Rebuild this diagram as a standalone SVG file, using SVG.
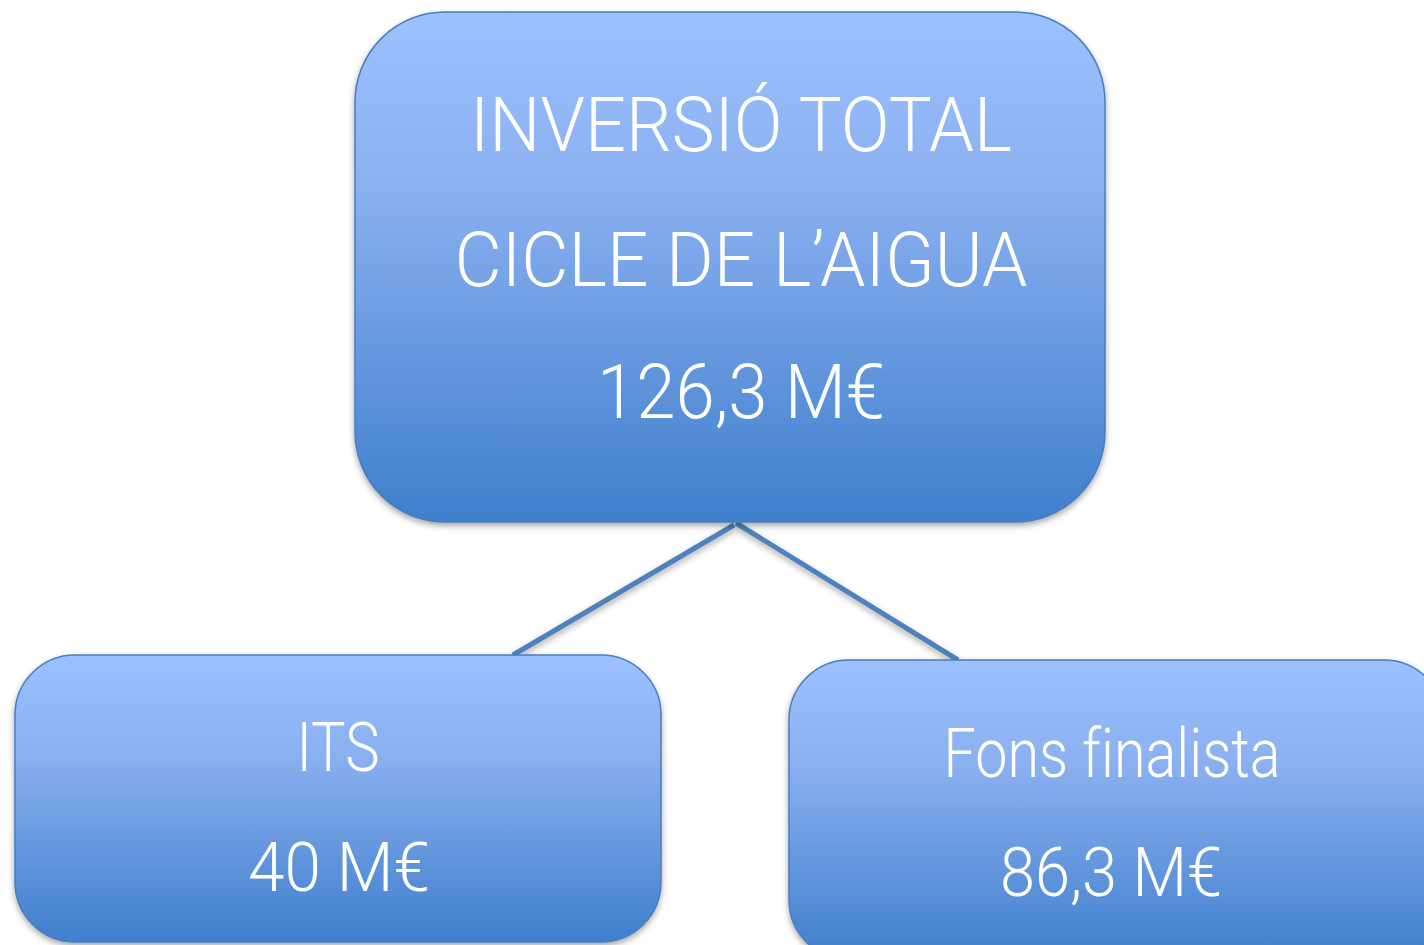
<svg xmlns="http://www.w3.org/2000/svg" width="1424" height="945" viewBox="0 0 1424 945">
<defs>
<linearGradient id="g" x1="0" y1="0" x2="0" y2="1">
<stop offset="0" stop-color="#9bc1ff"/>
<stop offset="0.35" stop-color="#8ab0f0"/>
<stop offset="1" stop-color="#3f7fcc"/>
</linearGradient>
<filter id="sh" x="-5%" y="-5%" width="110%" height="115%">
<feDropShadow dx="0" dy="3" stdDeviation="3" flood-color="#000" flood-opacity="0.35"/>
</filter>
<style>
.box{fill:url(#g);stroke:#4a7ebb;stroke-width:1.5;filter:url(#sh)}
.t{fill:#fff;font-family:Roboto,"Liberation Sans",Arial,sans-serif;font-weight:300;text-anchor:middle;font-variant-ligatures:none}
.c{stroke:#4f81bd;stroke-width:5;fill:none;filter:url(#sh)}
</style>
</defs>
<rect width="1424" height="945" fill="#fff"/>
<g id="connectors">
<line class="c" x1="734" y1="525" x2="513" y2="655"/>
<line class="c" x1="736" y1="523" x2="958" y2="660"/>
</g>
<g id="top">
<rect class="box" x="355" y="12" width="750" height="510" rx="90" ry="90"/>
<text class="t" x="741" y="151" font-size="76" textLength="542" lengthAdjust="spacingAndGlyphs">INVERSIÓ TOTAL</text>
<text class="t" x="741" y="286" font-size="76" textLength="573" lengthAdjust="spacingAndGlyphs">CICLE DE L’AIGUA</text>
<text class="t" x="741" y="418" font-size="76" textLength="288" lengthAdjust="spacingAndGlyphs">126,3 M€</text>
</g>
<g id="its">
<rect class="box" x="15" y="655" width="646" height="287" rx="60" ry="60"/>
<text class="t" x="338" y="771" font-size="68" textLength="83" lengthAdjust="spacingAndGlyphs">ITS</text>
<text class="t" x="339" y="891" font-size="68" textLength="182" lengthAdjust="spacingAndGlyphs">40 M€</text>
</g>
<g id="fons">
<rect class="box" x="789" y="660" width="655" height="300" rx="60" ry="60"/>
<text class="t" x="1112" y="777" font-size="68" textLength="337" lengthAdjust="spacingAndGlyphs">Fons finalista</text>
<text class="t" x="1111" y="896" font-size="68" textLength="222" lengthAdjust="spacingAndGlyphs">86,3 M€</text>
</g>
</svg>
